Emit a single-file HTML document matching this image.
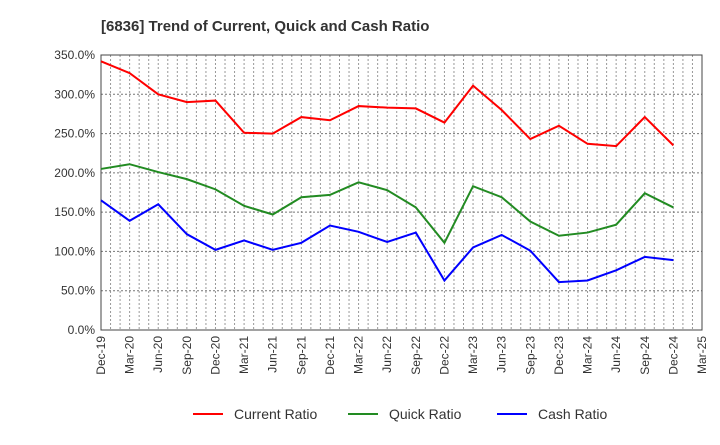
<!DOCTYPE html>
<html><head><meta charset="utf-8"><style>
body{margin:0;background:#fff;font-family:"Liberation Sans",sans-serif;}
</style></head><body>
<svg id="chart" width="720" height="440" xmlns="http://www.w3.org/2000/svg">
<text x="101" y="31" font-size="15" font-weight="bold" fill="#333">[6836]  Trend of Current, Quick and Cash Ratio</text>
<g id="grid"></g><g id="axes"></g><g id="series"></g><g id="legend"></g>
</svg>
<script>
const categories=["Dec-19","Mar-20","Jun-20","Sep-20","Dec-20","Mar-21","Jun-21","Sep-21","Dec-21","Mar-22","Jun-22","Sep-22","Dec-22","Mar-23","Jun-23","Sep-23","Dec-23","Mar-24","Jun-24","Sep-24","Dec-24","Mar-25"];
const currentRatio=[342,327,300,290,292,251,250,271,267,285,283,282,264,311,280,243,260,237,234,271,235];
const quickRatio=[205,211,201,192,179,158,147,169,172,188,178,156,111,183,169,138,120,124,134,174,156];
const cashRatio=[165,139,160,122,102,114,102,111,133,125,112,124,63,105,121,101,61,63,76,93,89];
const yTicks=[0,50,100,150,200,250,300,350];
const NS="http://www.w3.org/2000/svg";
const L=101,R=702,T=55,B=330,yMax=350;
const x=i=>L+(R-L)*i/(categories.length-1);
const y=v=>B-(B-T)*v/yMax;
function mk(tag,attrs,parent,txt){const e=document.createElementNS(NS,tag);for(const k in attrs)e.setAttribute(k,attrs[k]);if(txt!==undefined)e.textContent=txt;parent.appendChild(e);return e;}
const grid=document.getElementById('grid'),axes=document.getElementById('axes'),series=document.getElementById('series'),legend=document.getElementById('legend');
for(let m=1;m<(categories.length-1)*3;m++){const xx=L+(R-L)*m/((categories.length-1)*3);
const g=mk('line',{x1:xx,x2:xx,y1:T,y2:B,stroke:'#999','stroke-dasharray':'2,2','stroke-width':1},grid);

}
yTicks.forEach(t=>{const yy=y(t);
if(t>0){const g=mk('line',{x1:L,x2:R,y1:yy,y2:yy,stroke:'#777','stroke-dasharray':'2,2','stroke-width':1},grid);

}
const lb=mk('text',{x:L-6,y:yy+4,'text-anchor':'end','font-size':12,fill:'#333'},axes,t.toFixed(1)+'%');

});
categories.forEach((c,i)=>{const lb=mk('text',{transform:`translate(${x(i)+4},${B+6}) rotate(-90)`,'text-anchor':'end','font-size':12,fill:'#333'},axes,c);

});
const fr=mk('rect',{x:L,y:T,width:R-L,height:B-T,fill:'none',stroke:'#444','stroke-width':1},axes);


[[currentRatio,'#ff0000','current-ratio-line'],[quickRatio,'#228b22','quick-ratio-line'],[cashRatio,'#0000ff','cash-ratio-line']].forEach(([d,c,n])=>{
const p=mk('polyline',{points:d.map((v,i)=>x(i)+','+y(v)).join(' '),fill:'none',stroke:c,'stroke-width':2},series);

});
[['Current Ratio','#ff0000',193],['Quick Ratio','#228b22',348],['Cash Ratio','#0000ff',497]].forEach(([t,c,lx])=>{
const g=mk('g',{},legend);


mk('line',{x1:lx,x2:lx+30,y1:414,y2:414,stroke:c,'stroke-width':2},g);
mk('text',{x:lx+41,y:419,'font-size':14,fill:'#333'},g,t);});
</script>
</body></html>
